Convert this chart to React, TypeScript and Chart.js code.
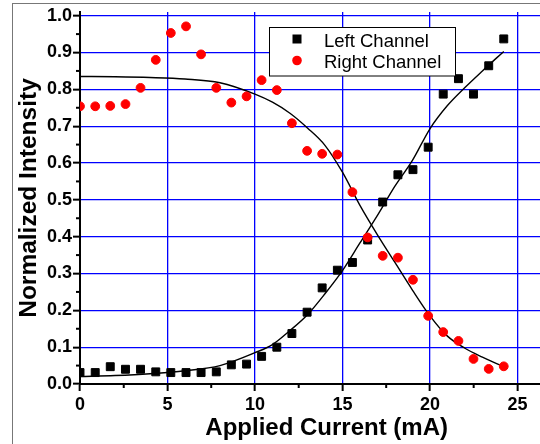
import React, { useEffect, useRef } from 'react';
import { Chart, registerables } from 'chart.js';

Chart.register(...registerables);

// ---- data ----
const currentMA = [0, 0.87, 1.73, 2.6, 3.46, 4.33, 5.19, 6.06, 6.92, 7.79, 8.65, 9.52, 10.38, 11.25, 12.11, 12.98, 13.84, 14.71, 15.57, 16.44, 17.3, 18.17, 19.03, 19.9, 20.76, 21.63, 22.49, 23.36, 24.22];
const leftChannel = [0.031, 0.031, 0.047, 0.040, 0.040, 0.033, 0.031, 0.031, 0.031, 0.033, 0.052, 0.054, 0.075, 0.100, 0.137, 0.195, 0.261, 0.309, 0.330, 0.391, 0.494, 0.568, 0.582, 0.643, 0.787, 0.829, 0.787, 0.864, 0.937];
const rightChannel = [0.754, 0.754, 0.755, 0.760, 0.804, 0.880, 0.953, 0.971, 0.895, 0.804, 0.764, 0.781, 0.825, 0.798, 0.708, 0.633, 0.625, 0.623, 0.521, 0.398, 0.348, 0.343, 0.283, 0.185, 0.141, 0.117, 0.068, 0.041, 0.048];

// fitted curves
const fitCurrent = [0, 2, 4, 6, 8, 10, 11, 12, 13, 14, 15, 16, 17, 18, 19, 20, 21, 22, 23, 24.22];
const leftFit = [0.020, 0.023, 0.028, 0.036, 0.050, 0.085, 0.107, 0.145, 0.188, 0.245, 0.308, 0.383, 0.458, 0.537, 0.607, 0.693, 0.756, 0.805, 0.850, 0.903];
const rightFit = [0.835, 0.834, 0.832, 0.828, 0.818, 0.787, 0.765, 0.735, 0.695, 0.648, 0.575, 0.485, 0.405, 0.330, 0.255, 0.185, 0.130, 0.097, 0.073, 0.047];

const xTickValues = [0, 5, 10, 15, 20, 25];
const xMinorTicks = [2.5, 7.5, 12.5, 17.5, 22.5, 27.5];
const yTickValues = [0, 0.1, 0.2, 0.3, 0.4, 0.5, 0.6, 0.7, 0.8, 0.9, 1.0];
const yMinorTicks = [0.05, 0.15, 0.25, 0.35, 0.45, 0.55, 0.65, 0.75, 0.85, 0.95];

const seriesNames = ['Left Channel', 'Right Channel'];
const xTitle = 'Applied Current (mA)';
const yTitle = 'Normalized Intensity';

const FONT = "'Liberation Sans', Arial, Helvetica, sans-serif";
const BLUE = 'rgb(0,0,255)';

const minorTicksPlugin = {
  id: 'minorTicks',
  afterDraw(chart: any) {
    const { ctx, chartArea } = chart;
    const x = chart.scales.x;
    const y = chart.scales.y;
    ctx.save();
    ctx.strokeStyle = '#000';
    ctx.lineWidth = 2;
    for (const v of xMinorTicks) {
      const px = x.getPixelForValue(v);
      if (px > chartArea.right) continue;
      ctx.beginPath();
      ctx.moveTo(px, chartArea.bottom);
      ctx.lineTo(px, chartArea.bottom + 4);
      ctx.stroke();
    }
    for (const v of yMinorTicks) {
      const py = y.getPixelForValue(v);
      ctx.beginPath();
      ctx.moveTo(chartArea.left, py);
      ctx.lineTo(chartArea.left - 4, py);
      ctx.stroke();
    }
    ctx.restore();
  },
};

const legendPlugin = {
  id: 'insetLegend',
  afterDraw(chart: any) {
    const { ctx } = chart;
    ctx.save();
    ctx.fillStyle = '#fff';
    ctx.fillRect(269.5, 27.5, 186, 48.5);
    ctx.strokeStyle = '#000';
    ctx.lineWidth = 1;
    ctx.strokeRect(269.5, 27.5, 186, 48.5);
    // square marker
    ctx.fillStyle = '#000';
    ctx.fillRect(292.5, 34.5, 9, 9);
    // circle marker
    ctx.fillStyle = '#ff0000';
    ctx.beginPath();
    ctx.arc(297, 60.5, 4.8, 0, Math.PI * 2);
    ctx.fill();
    ctx.fillStyle = '#000';
    ctx.font = `18.5px ${FONT}`;
    ctx.textBaseline = 'alphabetic';
    ctx.textAlign = 'left';
    ctx.fillText(seriesNames[0], 324, 46.5);
    ctx.fillText(seriesNames[1], 324, 67.5);
    ctx.restore();
  },
};

export default function App() {
  const ref = useRef<HTMLCanvasElement>(null);

  useEffect(() => {
    if (!ref.current) return;
    const chart = new Chart(ref.current, {
      type: 'scatter',
      data: {
        datasets: [
          {
            label: seriesNames[1],
            data: currentMA.map((x, i) => ({ x, y: rightChannel[i] })),
            pointStyle: 'circle',
            pointRadius: 4.4,
            pointBorderWidth: 1,
            backgroundColor: '#ff0000',
            borderColor: '#ff0000',
            showLine: false,
          },
          {
            label: seriesNames[0],
            data: currentMA.map((x, i) => ({ x, y: leftChannel[i] })),
            pointStyle: 'rect',
            pointRadius: 5.6,
            pointBorderWidth: 1,
            backgroundColor: '#000',
            borderColor: '#000',
            showLine: false,
          },
          {
            label: 'Right fit',
            data: fitCurrent.map((x, i) => ({ x, y: rightFit[i] })),
            showLine: true,
            borderColor: '#000',
            borderWidth: 1.4,
            pointRadius: 0,
            cubicInterpolationMode: 'monotone',
            fill: false,
          },
          {
            label: 'Left fit',
            data: fitCurrent.map((x, i) => ({ x, y: leftFit[i] })),
            showLine: true,
            borderColor: '#000',
            borderWidth: 1.4,
            pointRadius: 0,
            cubicInterpolationMode: 'monotone',
            fill: false,
          },
        ],
      },
      options: {
        animation: false,
        responsive: false,
        devicePixelRatio: 1,
        layout: { padding: { top: 12, right: 0, bottom: 0, left: 0 } },
        plugins: {
          legend: { display: false },
          tooltip: { enabled: false },
        },
        scales: {
          x: {
            type: 'linear',
            min: 0,
            max: 28.2,
            afterBuildTicks: (s: any) => {
              s.ticks = xTickValues.map((v) => ({ value: v }));
            },
            afterFit: (s: any) => {
              s.height = 60;
            },
            ticks: {
              color: '#000',
              font: { family: FONT, size: 18, weight: 'bold' },
              padding: 3,
              maxRotation: 0,
              callback: (v: any) => String(v),
            },
            grid: {
              color: BLUE,
              lineWidth: 1.3,
              tickColor: '#000',
              tickLength: 7,
              tickWidth: 2,
            },
            border: { color: '#000', width: 2 },
            title: {
              display: true,
              text: xTitle,
              color: '#000',
              font: { family: FONT, size: 24, weight: 'bold', lineHeight: 1.2 },
              padding: { top: 0, bottom: 1 },
            },
          },
          y: {
            type: 'linear',
            min: 0,
            max: 1.01,
            afterBuildTicks: (s: any) => {
              s.ticks = yTickValues.map((v) => ({ value: v }));
            },
            afterFit: (s: any) => {
              s.width = 80;
            },
            ticks: {
              color: '#000',
              font: { family: FONT, size: 18, weight: 'bold' },
              padding: 1,
              callback: (v: any) => Number(v).toFixed(1),
            },
            grid: {
              color: BLUE,
              lineWidth: 1.3,
              tickColor: '#000',
              tickLength: 7,
              tickWidth: 2,
            },
            border: { color: '#000', width: 2 },
            title: {
              display: true,
              text: yTitle,
              color: '#000',
              font: { family: FONT, size: 24.5, weight: 'bold', lineHeight: 1.2 },
              padding: { top: 15, bottom: 0 },
            },
          },
        },
      },
      plugins: [minorTicksPlugin, legendPlugin],
    } as any);
    return () => chart.destroy();
  }, []);

  return (
    <div
      style={{
        position: 'fixed',
        left: 0,
        top: 0,
        width: 540,
        height: 444,
        overflow: 'hidden',
        background: '#fff',
      }}
    >
      <canvas ref={ref} width={580} height={444} style={{ display: 'block', width: 580, height: 444 }} />
      <div
        style={{
          position: 'absolute',
          left: 12,
          top: 3,
          width: 600,
          height: 500,
          borderLeft: '1.5px solid #777',
          borderTop: '1.5px solid #777',
          pointerEvents: 'none',
        }}
      />
    </div>
  );
}
